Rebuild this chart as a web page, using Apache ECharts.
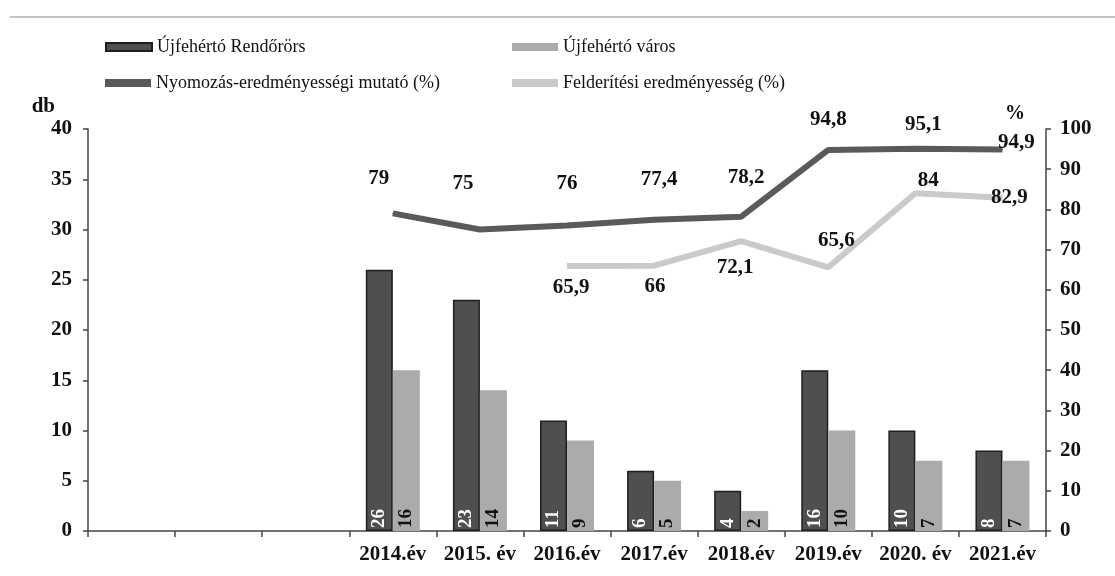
<!DOCTYPE html>
<html>
<head>
<meta charset="utf-8">
<script src="https://cdn.jsdelivr.net/npm/echarts@6/dist/echarts.min.js"></script>
<style>html,body{margin:0;padding:0;background:#fff}#c{width:1115px;height:576px}</style>
</head>
<body>
<div id="c"></div>
<script>
const categories = ['', '', '', '2014.év', '2015. év', '2016.év', '2017.év', '2018.év', '2019.év', '2020. év', '2021.év'];
const rendororsValues = [null, null, null, 26, 23, 11, 6, 4, 16, 10, 8];
const varosValues = [null, null, null, 16, 14, 9, 5, 2, 10, 7, 7];
const nyomozasValues = [null, null, null, 79, 75, 76, 77.4, 78.2, 94.8, 95.1, 94.9];
const felderitesValues = [null, null, null, null, null, 65.9, 66, 72.1, 65.6, 84, 82.9];
const seriesNames = ['Újfehértó Rendőrörs', 'Újfehértó város', 'Nyomozás-eredményességi mutató (%)', 'Felderítési eredményesség (%)'];

// label placement (styling only)
const nyomozasLabelOffsets = [null, null, null, [-14, -35], [-17, -46], [0, -42], [5, -40], [5, -39], [0, -30], [8, -24], [14, -7]];
const felderitesLabelOffsets = [null, null, null, null, null, [4, 21], [1, 21], [-6, 26], [8, -27], [13, -13], [7, 0]];

const FONT = '"Liberation Serif", "Times New Roman", serif';
const fmt = p => String(p.value).replace('.', ',');

function lineData(vals, offs) {
  return vals.map((v, i) => v == null ? null : {
    value: v,
    label: { offset: offs[i] }
  });
}

const chart = echarts.init(document.getElementById('c'), null, { renderer: 'canvas' });
const lineLabel = {
  show: true, position: 'inside', formatter: fmt,
  fontFamily: FONT, fontWeight: 'bold', fontSize: 21, color: '#111'
};
const barLabelBase = {
  show: true, position: 'insideBottom', rotate: 90, align: 'left', verticalAlign: 'middle',
  distance: 3, fontFamily: FONT, fontWeight: 'bold', fontSize: 19
};
const legendBase = {
  orient: 'horizontal', itemWidth: 46, itemHeight: 8, icon: 'rect', padding: 0,
  textStyle: { fontFamily: FONT, fontSize: 18, color: '#111' }, selectedMode: false
};
const axisLineStyle = { color: '#444', width: 1.5 };

chart.setOption({
  backgroundColor: '#fff',
  animation: false,
  graphic: [{
    type: 'line', shape: { x1: 10, y1: 17, x2: 1115, y2: 17 },
    style: { stroke: '#c4c4c4', lineWidth: 2 }
  }],
  legend: [
    Object.assign({}, legendBase, { data: [seriesNames[0]], left: 105, top: 38 }),
    Object.assign({}, legendBase, { data: [seriesNames[1]], left: 512, top: 38 }),
    Object.assign({}, legendBase, { data: [seriesNames[2]], left: 105, top: 74 }),
    Object.assign({}, legendBase, { data: [seriesNames[3]], left: 512, top: 74 })
  ],
  grid: { left: 88, right: 69, top: 129, bottom: 45, containLabel: false },
  xAxis: {
    type: 'category', data: categories,
    axisLine: { lineStyle: axisLineStyle },
    axisTick: { show: true, length: 6, lineStyle: axisLineStyle },
    axisLabel: { fontFamily: FONT, fontWeight: 'bold', fontSize: 21, color: '#111', margin: 13, interval: 0 }
  },
  yAxis: [{
    type: 'value', min: 0, max: 40, interval: 5,
    name: 'db', nameLocation: 'end', nameGap: 12,
    nameTextStyle: { fontFamily: FONT, fontWeight: 'bold', fontSize: 21, color: '#111', align: 'right', padding: [0, 33, 0, 0] },
    axisLine: { show: true, lineStyle: axisLineStyle },
    axisTick: { show: true, length: 5, lineStyle: axisLineStyle },
    splitLine: { show: false },
    axisLabel: { fontFamily: FONT, fontWeight: 'bold', fontSize: 21, color: '#111', margin: 16 }
  }, {
    type: 'value', min: 0, max: 100, interval: 10, position: 'right',
    name: '%', nameLocation: 'end', nameGap: 5,
    nameTextStyle: { fontFamily: FONT, fontWeight: 'bold', fontSize: 20, color: '#111', align: 'right', padding: [0, 21, 0, 0] },
    axisLine: { show: true, lineStyle: axisLineStyle },
    axisTick: { show: true, length: 5, lineStyle: axisLineStyle },
    splitLine: { show: false },
    axisLabel: { fontFamily: FONT, fontWeight: 'bold', fontSize: 21, color: '#111', margin: 14 }
  }],
  series: [{
    name: seriesNames[0], type: 'bar', yAxisIndex: 0, data: rendororsValues,
    barGap: '0%', barCategoryGap: '38%',
    itemStyle: { color: '#4f4f4f', borderColor: '#1e1e1e', borderWidth: 1.5 },
    label: Object.assign({}, barLabelBase, { color: '#fff' })
  }, {
    name: seriesNames[1], type: 'bar', yAxisIndex: 0, data: varosValues,
    itemStyle: { color: '#ababab' },
    label: Object.assign({}, barLabelBase, { color: '#111' })
  }, {
    name: seriesNames[2], type: 'line', yAxisIndex: 1,
    data: lineData(nyomozasValues, nyomozasLabelOffsets),
    symbol: 'circle', symbolSize: 1, showSymbol: true,
    lineStyle: { color: '#5a5a5a', width: 6 },
    itemStyle: { color: '#5a5a5a' },
    label: lineLabel
  }, {
    name: seriesNames[3], type: 'line', yAxisIndex: 1,
    data: lineData(felderitesValues, felderitesLabelOffsets),
    symbol: 'circle', symbolSize: 1, showSymbol: true,
    lineStyle: { color: '#cacaca', width: 6 },
    itemStyle: { color: '#cacaca' },
    label: lineLabel
  }]
});
</script>
</body>
</html>
